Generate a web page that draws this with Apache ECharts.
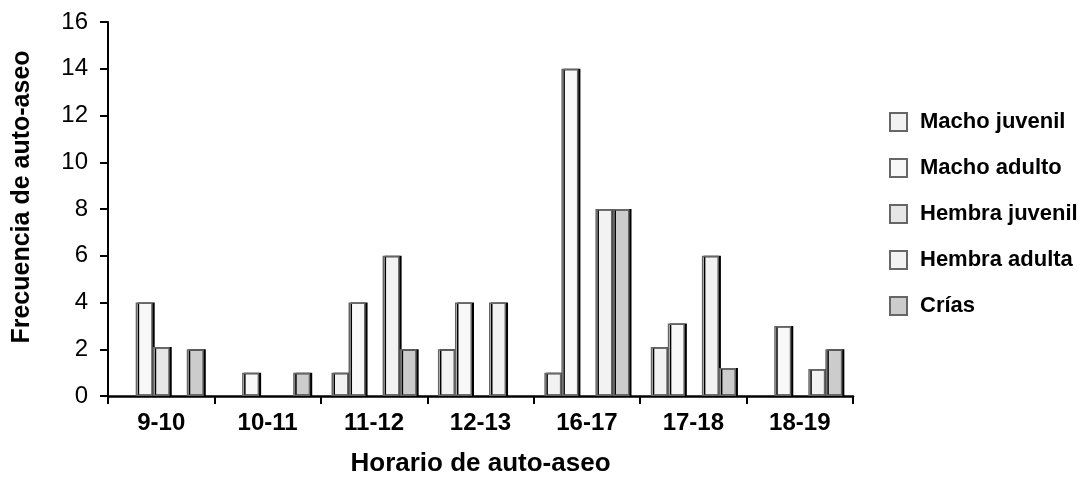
<!DOCTYPE html>
<html><head><meta charset="utf-8">
<script src="https://cdn.jsdelivr.net/npm/echarts@6/dist/echarts.min.js"></script>
<style>html,body{margin:0;padding:0;background:#fff}#c{width:1081px;height:477px}</style>
</head><body><div id="c"></div>
<script>
var categories = ['9-10','10-11','11-12','12-13','16-17','17-18','18-19'];
var machoJuvenil  = [null, null, 1, 2, 1, 2.1, null];
var machoAdulto   = [4, 1, 4, 4, 14, 3.1, 3];
var hembraJuvenil = [2.1, null, null, null, null, null, null];
var hembraAdulta  = [null, null, 6, 4, 8, 6, 1.15];
var crias         = [2, 1, 2, null, 8, 1.2, 2];
var yTicks = [0,2,4,6,8,10,12,14,16];

var names = ['Macho juvenil','Macho adulto','Hembra juvenil','Hembra adulta','Crías'];
var datas = [machoJuvenil, machoAdulto, hembraJuvenil, hembraAdulta, crias];
var fills = ['#f2f2f2','#f8f8f8','#e6e6e6','#f2f2f2','#cccccc'];
var font = 'Liberation Sans, Arial, sans-serif';

var chart = echarts.init(document.getElementById('c'));
chart.setOption({
  animation:false,
  backgroundColor:'#fff',
  grid:{left:108, top:22, right:228, bottom:81, containLabel:false, outerBoundsMode:'none'},
  legend:{
    orient:'vertical', left:884, top:106, itemWidth:17, itemHeight:18, itemGap:24,
    textStyle:{fontFamily:font, fontWeight:'bold', fontSize:22, color:'#000', padding:[0,0,0,8]},
    data:names, icon:'rect'
  },
  xAxis:{
    type:'category', data:categories,
    name:'Horario de auto-aseo', nameLocation:'middle', nameGap:55,
    nameTextStyle:{fontFamily:font, fontWeight:'bold', fontSize:26, color:'#000'},
    axisLine:{lineStyle:{color:'#000', width:2.5}},
    axisTick:{show:true, length:8, lineStyle:{color:'#000', width:2}},
    axisLabel:{fontFamily:font, fontWeight:'bold', fontSize:24, color:'#000', margin:15}
  },
  yAxis:{
    type:'value', min:0, max:16, interval:2,
    name:'Frecuencia de auto-aseo', nameLocation:'middle', nameGap:73,
    nameTextStyle:{fontFamily:font, fontWeight:'bold', fontSize:25, color:'#000', padding:[0,0,0,24]},
    axisLine:{show:true, lineStyle:{color:'#000', width:2}},
    axisTick:{show:true, length:8, lineStyle:{color:'#000', width:2}},
    splitLine:{show:false},
    axisLabel:{fontFamily:font, fontSize:24, color:'#000', margin:20,
      formatter:function(v){return yTicks.indexOf(v)>=0? String(v):'';}}
  },
  series: names.map(function(n,i){
    return {
      name:n, type:'bar', data:datas[i], barGap:'0%', barCategoryGap:'20%',
      itemStyle:{color:fills[i], borderColor:'#666', borderWidth:1.5,
        shadowColor:'#000', shadowOffsetX:2, shadowOffsetY:0, shadowBlur:0}
    };
  })
});
</script></body></html>
